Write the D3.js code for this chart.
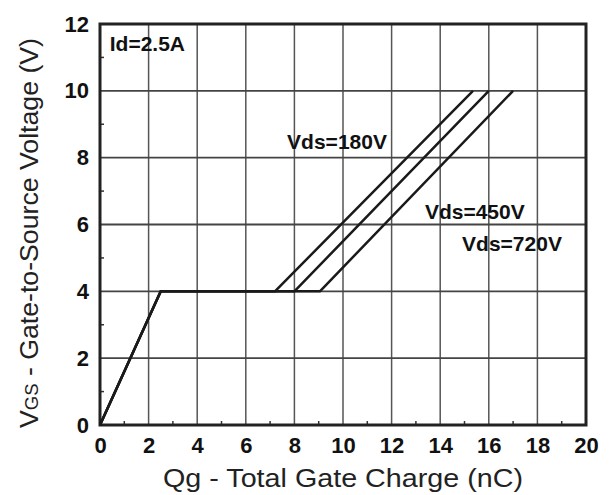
<!DOCTYPE html>
<html>
<head>
<meta charset="utf-8">
<script src="https://cdn.jsdelivr.net/npm/d3@7"></script>
<style>
  body { margin: 0; background: #fff; }
  svg { display: block; font-family: "Liberation Sans", Arial, sans-serif; }
</style>
</head>
<body>
<div id="chart"></div>
<script>
// DATA
var seriesNames = ["Vds=180V", "Vds=450V", "Vds=720V"];
var qg180 = [0, 2.5, 7.2, 15.35];
var qg450 = [0, 2.5, 8.0, 16.0];
var qg720 = [0, 2.5, 9.05, 17.0];
var vgsPoints = [0, 4, 4, 10];
var xTicks = [0, 2, 4, 6, 8, 10, 12, 14, 16, 18, 20];
var yTicks = [0, 2, 4, 6, 8, 10, 12];
var xMinor = [1, 3, 5, 7, 9, 11, 13, 15, 17, 19];
var yMinor = [1, 3, 5, 7, 9, 11];

var W = 611, H = 495;
var margin = {top: 24, right: 25, bottom: 70, left: 100};
var width = W - margin.left - margin.right,
    height = H - margin.top - margin.bottom;

var svg = d3.select("#chart").append("svg")
  .attr("width", W).attr("height", H);

var g = svg.append("g")
  .attr("transform", "translate(" + margin.left + "," + margin.top + ")");

var x = d3.scaleLinear().domain([0, 20]).range([0, width]);
var y = d3.scaleLinear().domain([0, 12]).range([height, 0]);

// GRID
g.append("g").attr("class", "grid")
  .selectAll("line.v").data(xTicks).enter().append("line")
  .attr("x1", function(d) { return x(d); }).attr("x2", function(d) { return x(d); })
  .attr("y1", 0).attr("y2", height)
  .attr("stroke", "#555").attr("stroke-width", 1.5);
g.append("g").attr("class", "grid")
  .selectAll("line.h").data(yTicks).enter().append("line")
  .attr("y1", function(d) { return y(d); }).attr("y2", function(d) { return y(d); })
  .attr("x1", 0).attr("x2", width)
  .attr("stroke", "#444").attr("stroke-width", 1.8);

// MINOR TICKS (inside)
g.selectAll("line.mx").data(xMinor).enter().append("line")
  .attr("x1", function(d) { return x(d); }).attr("x2", function(d) { return x(d); })
  .attr("y1", height).attr("y2", height - 4)
  .attr("stroke", "#333").attr("stroke-width", 1.5);
g.selectAll("line.my").data(yMinor).enter().append("line")
  .attr("y1", function(d) { return y(d); }).attr("y2", function(d) { return y(d); })
  .attr("x1", 0).attr("x2", 4)
  .attr("stroke", "#333").attr("stroke-width", 1.5);

// BORDER
g.append("rect")
  .attr("width", width).attr("height", height)
  .attr("fill", "none").attr("stroke", "#222").attr("stroke-width", 3);

// AXES (labels only)
var xAxis = d3.axisBottom(x).tickValues(xTicks).tickSize(0).tickPadding(12);
var yAxis = d3.axisLeft(y).tickValues(yTicks).tickSize(0).tickPadding(11);

g.append("g").attr("transform", "translate(0," + height + ")")
  .call(xAxis)
  .call(function(s) { s.select(".domain").remove(); })
  .selectAll("text")
  .attr("font-size", 22).attr("font-weight", "bold").attr("fill", "#111")
  .attr("font-family", "Liberation Sans, Arial, sans-serif");

g.append("g")
  .call(yAxis)
  .call(function(s) { s.select(".domain").remove(); })
  .selectAll("text")
  .attr("font-size", 22).attr("font-weight", "bold").attr("fill", "#111")
  .attr("font-family", "Liberation Sans, Arial, sans-serif");

// CURVES
var series = [qg180, qg450, qg720].map(function(qs, i) {
  return {name: seriesNames[i], pts: qs.map(function(q, j) { return [q, vgsPoints[j]]; })};
});
var line = d3.line()
  .x(function(d) { return x(d[0]); })
  .y(function(d) { return y(d[1]); });

g.selectAll("path.curve").data(series).enter().append("path")
  .attr("class", "curve")
  .attr("d", function(d) { return line(d.pts); })
  .attr("fill", "none").attr("stroke", "#1a1a1a").attr("stroke-width", 2.5)
  .attr("stroke-linejoin", "round");

// ANNOTATIONS
var labelPos = [[7.7, 8.25], [13.37, 6.17], [14.9, 5.2]];
g.selectAll("text.lbl").data(series).enter().append("text")
  .attr("class", "lbl")
  .attr("x", function(d, i) { return x(labelPos[i][0]); })
  .attr("y", function(d, i) { return y(labelPos[i][1]); })
  .attr("font-size", 21).attr("font-weight", "bold").attr("fill", "#111")
  .text(function(d) { return d.name; });

g.append("text")
  .attr("x", x(0.4)).attr("y", y(11.2))
  .attr("font-size", 21).attr("font-weight", "bold").attr("fill", "#111")
  .text("Id=2.5A");

// AXIS TITLES
svg.append("text")
  .attr("x", 343).attr("y", 487)
  .attr("text-anchor", "middle")
  .attr("font-size", 26).attr("fill", "#222")
  .attr("textLength", 360).attr("lengthAdjust", "spacingAndGlyphs")
  .text("Qg - Total Gate Charge (nC)");

var yt = svg.append("text")
  .attr("transform", "translate(38,233) rotate(-90)")
  .attr("text-anchor", "middle")
  .attr("font-size", 26).attr("fill", "#222")
  .attr("textLength", 390).attr("lengthAdjust", "spacingAndGlyphs");
yt.append("tspan").text("V");
yt.append("tspan").attr("font-size", 18).text("GS");
yt.append("tspan").text(" - Gate-to-Source Voltage (V)");
</script>
</body>
</html>
